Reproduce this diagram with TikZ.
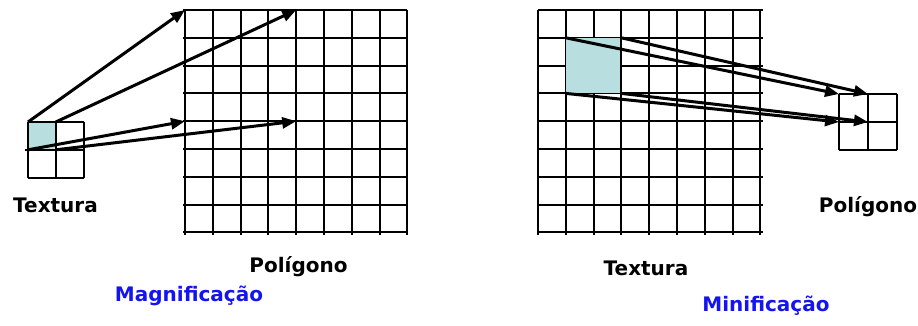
\documentclass[tikz,border=0pt]{standalone}
\usepackage{fontspec}
\setmainfont{DejaVu Sans}
\usetikzlibrary{arrows.meta}
\definecolor{texel}{RGB}{185,222,224}
\definecolor{labelblue}{RGB}{20,20,240}
\tikzset{
  gridline/.style={line width=2pt, black},
  maparrow/.style={line width=3pt, black, -{Triangle[length=14pt,width=11pt]}},
  lbl/.style={inner sep=0pt, anchor=base, font=\fontsize{20}{24}\selectfont\bfseries},
}
\begin{document}
\begin{tikzpicture}[x=1pt,y=-1pt]
\useasboundingbox (0,0) rectangle (918,325);
% ---------- Magnification (left) ----------
% small texture grid
\fill[texel] (28,122) rectangle (55.8,149.8);
\foreach \i in {0,1,2} {
  \draw[gridline] (28+27.8*\i,122) -- (28+27.8*\i,177.6);
}
\draw[gridline] (28,122) -- (83.6,122);
\draw[gridline] (25,149.8) -- (83.6,149.8);
\draw[gridline] (28,177.6) -- (83.6,177.6);
% big polygon grid
\foreach \i in {0,...,8} {
  \draw[gridline] (185+27.8*\i,10) -- (185+27.8*\i,234.5);
  \draw[gridline] (183,10+27.8*\i) -- (407.4,10+27.8*\i);
}
\coordinate (tA) at (28,122);
\coordinate (tB) at (55.8,122);
\coordinate (tC) at (28,149.8);
\coordinate (tD) at (55.8,149.8);
\coordinate (pA) at (185,10);
\coordinate (pB) at (296.2,10);
\coordinate (pC) at (185,121.2);
\coordinate (pD) at (296.2,121.2);
\draw[maparrow] (tA) -- (pA);
\draw[maparrow] (tB) -- (pB);
\draw[maparrow] (tC) -- (pC);
\draw[maparrow] (tD) -- (pD);
\node[lbl] (texL) at (55.5,212) {Textura};
\node[lbl] (polL) at (298.5,272) {Polígono};
\node[lbl, text=labelblue] (mag) at (189,301) {Magnificação};
% ---------- Minification (right) ----------
\foreach \i in {0,...,8} {
  \draw[gridline] (538+27.8*\i,10) -- (538+27.8*\i,234.5);
  \draw[gridline] (538,10+27.8*\i) -- (762.5,10+27.8*\i);
}
\fill[texel] (565.8,37.8) rectangle (621.4,93.4);
\draw[gridline] (621.4,37.8) -- (621.4,93.4);
% small polygon grid
\foreach \i in {0,1,2} {
  \draw[gridline] (839+29*\i,94) -- (839+29*\i,150);
  \draw[gridline] (839,94+28*\i) -- (897,94+28*\i);
}
\coordinate (sA) at (565.8,37.8);
\coordinate (sB) at (621.4,37.8);
\coordinate (sC) at (565.8,93.4);
\coordinate (sD) at (621.4,93.4);
\coordinate (qA) at (839,94);
\coordinate (qB) at (868,94);
\coordinate (qC) at (839,122);
\coordinate (qD) at (868,122);
\draw[maparrow] (sA) -- (qA);
\draw[maparrow] (sB) -- (qB);
\draw[maparrow] (sC) -- (qC);
\draw[maparrow] (sD) -- (qD);
\node[lbl] (polR) at (868,212) {Polígono};
\node[lbl] (texR) at (646,275) {Textura};
\node[lbl, text=labelblue] (min) at (766,311) {Minificação};
\end{tikzpicture}
\end{document}
